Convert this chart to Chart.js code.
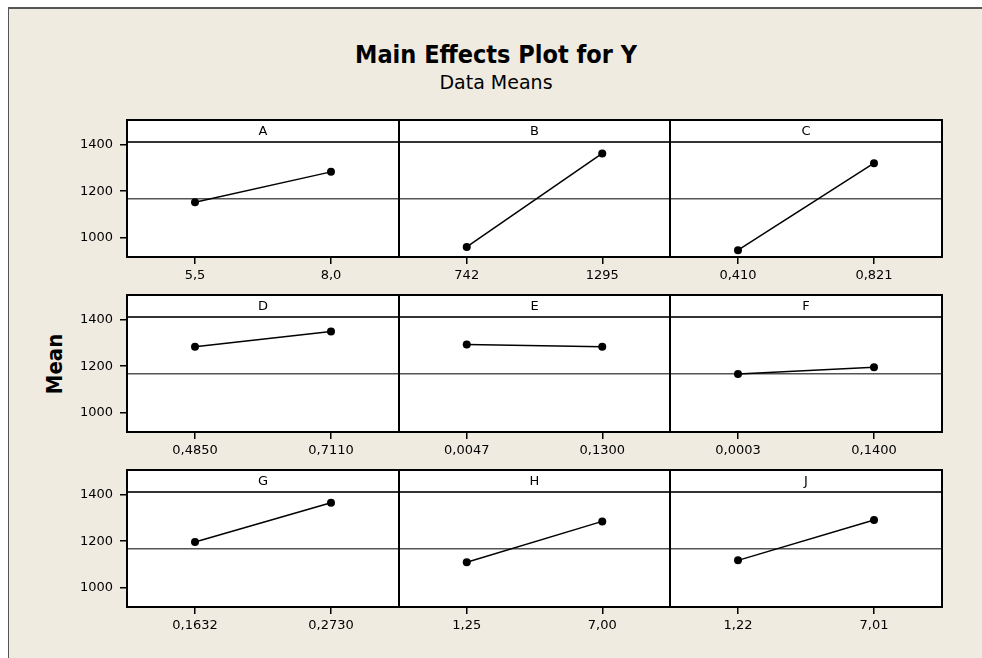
<!DOCTYPE html>
<html>
<head>
<meta charset="utf-8">
<script src="https://cdn.jsdelivr.net/npm/chart.js@4/dist/chart.umd.min.js"></script>
<style>
html,body{margin:0;padding:0;background:#fff;width:982px;height:658px;overflow:hidden;position:relative}
#frame{position:absolute;left:8px;top:7px;width:1000px;height:700px;background:#EFEBE1;border-left:1.5px solid #555;border-top:2px solid #555}
.t{position:absolute;white-space:nowrap;color:#000;text-align:center}
canvas{position:absolute}
</style>
</head>
<body>
<div id="frame"></div>
<div class="t" id="title" style="left:296px;width:400px;top:42px;font:bold 25px/25px 'DejaVu Sans Condensed','DejaVu Sans',sans-serif;font-stretch:condensed">Main Effects Plot for Y</div>
<div class="t" id="sub" style="left:296px;width:400px;top:73px;font:19px/19px 'DejaVu Sans',sans-serif">Data Means</div>
<div class="t" id="ylab" style="left:5px;width:100px;top:352px;font:bold 22px/24px 'DejaVu Sans Condensed','DejaVu Sans',sans-serif;font-stretch:condensed;transform:rotate(-90deg);transform-origin:50px 12px">Mean</div>
<script>
// ---- data ----
const factors = ['A','B','C','D','E','F','G','H','J'];
const lowLevels  = ['5,5','742','0,410','0,4850','0,0047','0,0003','0,1632','1,25','1,22'];
const highLevels = ['8,0','1295','0,821','0,7110','0,1300','0,1400','0,2730','7,00','7,01'];
const meanLow  = [1153, 961, 947, 1283, 1293, 1167, 1197, 1110, 1118];
const meanHigh = [1283, 1362, 1320, 1349, 1283, 1196, 1365, 1285, 1291];
const yTicks = [1000, 1200, 1400];
const grandMean = 1168;
const yMin = 918, yMax = 1411;

// ---- layout ----
const colLeft = [127, 399, 670];
const colRight = [399, 670, 942];
const rowTop = [120, 295, 470];
const HEADER = 22, PLOT_H = 115, XAXIS_H = 40, YAXIS_W = 72, M = 2;

const panelPlugin = {
  id: 'panel',
  beforeDraw(chart) {
    const {ctx, chartArea: a} = chart;
    ctx.save();
    ctx.fillStyle = '#fff';
    ctx.fillRect(a.left, a.top - HEADER, a.right - a.left, a.bottom - a.top + HEADER);
    ctx.restore();
  },
  beforeDatasetsDraw(chart) {
    const {ctx, chartArea: a} = chart;
    const y = chart.scales.y.getPixelForValue(grandMean);
    ctx.save();
    ctx.strokeStyle = '#555';
    ctx.lineWidth = 1.5;
    ctx.beginPath(); ctx.moveTo(a.left, y); ctx.lineTo(a.right, y); ctx.stroke();
    ctx.restore();
  },
  afterDraw(chart, args, opts) {
    const {ctx, chartArea: a} = chart;
    ctx.save();
    ctx.strokeStyle = '#333';
    ctx.lineWidth = 2;
    ctx.beginPath(); ctx.moveTo(a.left, a.top); ctx.lineTo(a.right, a.top); ctx.stroke();
    ctx.strokeStyle = '#000';
    ctx.strokeRect(a.left, a.top - HEADER, a.right - a.left, a.bottom - a.top + HEADER);
    ctx.fillStyle = '#000';
    ctx.font = "13px 'DejaVu Sans', sans-serif";
    ctx.textAlign = 'center';
    ctx.textBaseline = 'middle';
    ctx.fillText(opts.letter, (a.left + a.right) / 2, a.top - HEADER / 2 + 1);
    ctx.restore();
  }
};

factors.forEach((f, i) => {
  const r = Math.floor(i / 3), c = i % 3;
  const first = c === 0;
  const leftExtra = first ? YAXIS_W : M;
  const cv = document.createElement('canvas');
  const w = leftExtra + (colRight[c] - colLeft[c]) + M;
  const h = M + HEADER + PLOT_H + XAXIS_H;
  cv.width = w; cv.height = h;
  cv.style.left = (colLeft[c] - leftExtra) + 'px';
  cv.style.top = (rowTop[r] - M) + 'px';
  cv.style.width = w + 'px'; cv.style.height = h + 'px';
  document.body.appendChild(cv);
  new Chart(cv, {
    type: 'line',
    data: {
      labels: [lowLevels[i], highLevels[i]],
      datasets: [{
        data: [meanLow[i], meanHigh[i]],
        borderColor: '#000', borderWidth: 1.5,
        pointRadius: 4, pointBackgroundColor: '#000', pointBorderWidth: 0,
        tension: 0, fill: false
      }]
    },
    options: {
      responsive: false, animation: false, devicePixelRatio: 1,
      layout: {autoPadding: false, padding: {left: first ? 0 : M, right: M, top: M + HEADER, bottom: 0}},
      plugins: {legend: {display: false}, tooltip: {enabled: false}, title: {display: false}, panel: {letter: f}},
      scales: {
        x: {
          type: 'category', offset: true,
          border: {display: false},
          grid: {drawOnChartArea: false, drawTicks: true, tickLength: 7, offset: false, color: '#000', lineWidth: 1.5},
          ticks: {color: '#000', padding: 4, maxRotation: 0, font: {family: "'DejaVu Sans', sans-serif", size: 13}},
          afterFit(s) { s.height = XAXIS_H; }
        },
        y: {
          display: first, min: yMin, max: yMax,
          border: {display: false},
          grid: {drawOnChartArea: false, drawTicks: true, tickLength: 7, color: '#000', lineWidth: 1.5},
          ticks: {color: '#000', padding: 7, font: {family: "'DejaVu Sans', sans-serif", size: 13}, callback: v => String(v)},
          afterBuildTicks(s) { s.ticks = yTicks.map(v => ({value: v})); },
          afterFit(s) { s.width = first ? YAXIS_W : 0; }
        }
      }
    },
    plugins: [panelPlugin]
  });
});
</script>
</body>
</html>
